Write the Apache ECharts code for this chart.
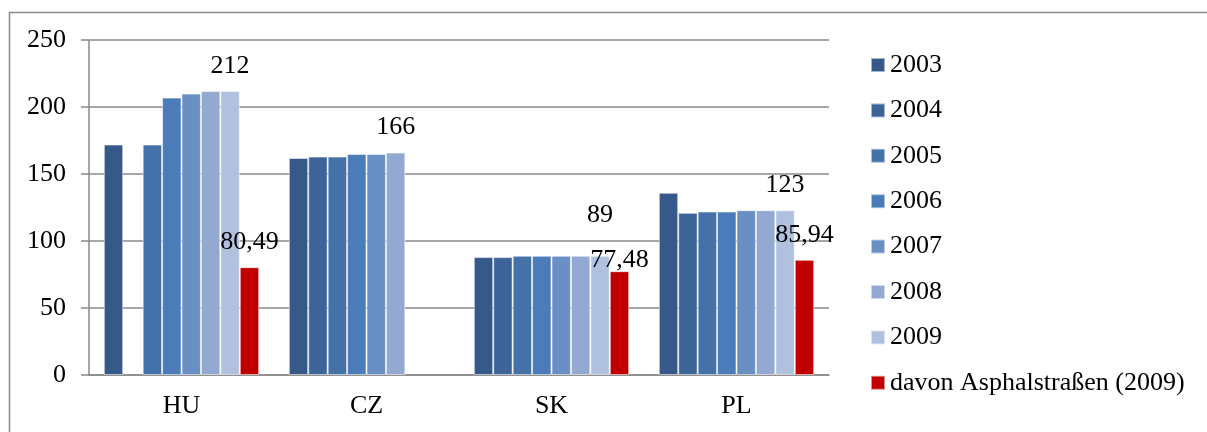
<!DOCTYPE html>
<html>
<head>
<meta charset="utf-8">
<script src="https://cdn.jsdelivr.net/npm/echarts@6/dist/echarts.min.js"></script>
<style>
  html, body { margin: 0; padding: 0; background: #fff; }
  #chart { width: 1207px; height: 432px; }
</style>
</head>
<body>
<div id="chart"></div>
<script>
var categories = ['HU', 'CZ', 'SK', 'PL'];
var v2003 = [172, 162, 88, 136];
var v2004 = [null, 163, 88, 121];
var v2005 = [172, 163, 89, 122];
var v2006 = [207, 165, 89, 122];
var v2007 = [210, 165, 89, 123];
var v2008 = [212, 166, 89, 123];
var v2009 = [212, null, 89, 123];
var asphalt = [80.49, null, 77.48, 85.94];
var yTicks = [0, 50, 100, 150, 200, 250];

var font = 'Liberation Serif';
var colors = ['#36598a', '#3d6498', '#4571a9', '#4b7bb9', '#6a8fc4', '#94a9d1', '#afc1de', '#c00000'];

// which points carry a value label, and a small nudge for crowded ones
var labelled = {
  '2008': { CZ: [0, 0] },
  '2009': { HU: [0, 0], SK: [0, -16], PL: [0, 0] },
  'davon Asphalstraßen (2009)': { HU: [0, 0], SK: [0, 14], PL: [0, 0] }
};

function makeData(name, values) {
  return values.map(function (v, i) {
    if (v === null) return '-';
    var marks = labelled[name] || {};
    var off = marks[categories[i]];
    if (!off) return v;
    return {
      value: v,
      label: {
        show: true,
        position: 'top',
        distance: 12,
        offset: off,
        fontFamily: font,
        fontSize: 26,
        color: '#000',
        formatter: function (p) { return String(p.value).replace('.', ','); }
      }
    };
  });
}

var seriesDefs = [
  ['2003', v2003], ['2004', v2004], ['2005', v2005], ['2006', v2006],
  ['2007', v2007], ['2008', v2008], ['2009', v2009],
  ['davon Asphalstraßen (2009)', asphalt]
];

var myChart = echarts.init(document.getElementById('chart'));
var option = {
  animation: false,
  color: colors,
  textStyle: { fontFamily: font },
  graphic: [{
    type: 'rect',
    shape: { x: 9.5, y: 12.5, width: 1400, height: 600 },
    style: { fill: 'none', stroke: '#8a8a8a', lineWidth: 1.5 },
    silent: true
  }],
  grid: { left: 89, right: 378, top: 40, bottom: 57 },
  legend: {
    orient: 'vertical',
    left: 865,
    top: 47,
    itemWidth: 14,
    itemHeight: 14,
    itemGap: 19.4,
    icon: 'rect',
    textStyle: { fontFamily: font, fontSize: 26, color: '#000', lineHeight: 26 },
    data: seriesDefs.map(function (s) { return s[0]; })
  },
  xAxis: {
    type: 'category',
    data: categories,
    axisLine: { lineStyle: { color: '#8a8a8a', width: 1.5 } },
    axisTick: { length: 7, lineStyle: { color: '#8a8a8a', width: 1.5 } },
    axisLabel: { fontFamily: font, fontSize: 26, color: '#000', margin: 18 }
  },
  yAxis: {
    type: 'value',
    min: yTicks[0],
    max: yTicks[yTicks.length - 1],
    interval: 50,
    axisLine: { show: true, lineStyle: { color: '#8a8a8a', width: 1.5 } },
    axisTick: { show: true, length: 8, lineStyle: { color: '#8a8a8a', width: 1.5 } },
    axisLabel: { fontFamily: font, fontSize: 26, color: '#000', margin: 23 },
    splitLine: { lineStyle: { color: '#8a8a8a', width: 1.5 } }
  },
  series: seriesDefs.map(function (s) {
    return {
      name: s[0],
      type: 'bar',
      barGap: 0,
      barCategoryGap: '16%',
      itemStyle: { borderColor: 'rgba(255,255,255,0.55)', borderWidth: 1 },
      data: makeData(s[0], s[1])
    };
  })
};
myChart.setOption(option);
</script>
</body>
</html>
